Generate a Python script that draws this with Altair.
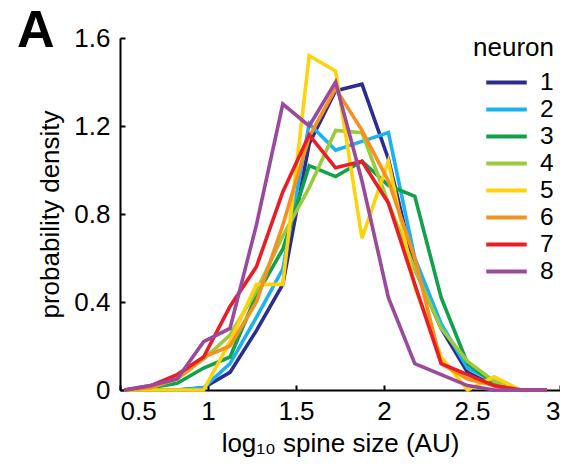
import altair as alt
import pandas as pd

# bin centres (log10 spine size)
x_centers = [0.525, 0.675, 0.825, 0.975, 1.125, 1.275, 1.425, 1.575, 1.725,
             1.875, 2.025, 2.175, 2.325, 2.475, 2.625, 2.775, 2.925]

neurons = ["1", "2", "3", "4", "5", "6", "7", "8"]

n1 = [0, 0, 0, 0.01, 0.08, 0.27, 0.48, 1.12, 1.36, 1.39, 1.05, 0.55, 0.28, 0.08, 0.02, 0, 0]
n2 = [0, 0, 0, 0.01, 0.12, 0.33, 0.55, 1.21, 1.09, 1.13, 1.17, 0.60, 0.30, 0.10, 0.04, 0, 0]
n3 = [0, 0.01, 0.03, 0.10, 0.15, 0.43, 0.64, 1.02, 0.97, 1.04, 0.93, 0.88, 0.42, 0.12, 0.03, 0, 0]
n4 = [0, 0.01, 0.05, 0.14, 0.25, 0.45, 0.70, 0.92, 1.18, 1.17, 0.85, 0.55, 0.28, 0.13, 0.04, 0, 0]
n5 = [0, 0, 0, 0, 0.22, 0.48, 0.48, 1.52, 1.45, 0.69, 1.04, 0.47, 0.15, 0, 0.06, 0, 0]
n6 = [0, 0.01, 0.05, 0.15, 0.20, 0.40, 0.75, 1.15, 1.37, 1.18, 0.95, 0.60, 0.12, 0.05, 0.02, 0, 0]
n7 = [0, 0.02, 0.07, 0.15, 0.38, 0.56, 0.90, 1.16, 1.01, 1.04, 0.85, 0.48, 0.12, 0.07, 0.02, 0, 0]
n8 = [0, 0.02, 0.05, 0.22, 0.28, 0.75, 1.30, 1.20, 1.40, 0.95, 0.42, 0.12, 0.07, 0.02, 0, 0, 0]

series = [n1, n2, n3, n4, n5, n6, n7, n8]

colors = ["#2b2e8f", "#1ab2f0", "#12a14b", "#9acb3c", "#ffd20a",
          "#f7901e", "#ec1c24", "#9a4a9c"]

x_ticks = [0.5, 1, 1.5, 2, 2.5, 3]
y_ticks = [0, 0.4, 0.8, 1.2, 1.6]

panel_label = ["A"]

rows = []
for name, vals in zip(neurons, series):
    for xv, yv in zip(x_centers, vals):
        rows.append({"x": xv, "y": yv, "neuron": name})
df = pd.DataFrame(rows)

FONT = "Liberation Sans"
W, H = 440, 352

xscale = alt.Scale(domain=[0.5, 3], nice=False, zero=False)
yscale = alt.Scale(domain=[0, 1.6], nice=False, zero=False)

base = alt.Chart(df)

lines = base.mark_line(strokeWidth=3.6).encode(
    x=alt.X("x:Q", scale=xscale,
            axis=alt.Axis(values=x_ticks, format="~g", orient="bottom",
                          title="log₁₀ spine size (AU)", tickSize=0,
                          labelFlush=True, labelPadding=8, titlePadding=6)),
    y=alt.Y("y:Q", scale=yscale,
            axis=alt.Axis(values=y_ticks, format="~g", orient="left",
                          title="probability density", tickSize=0,
                          labelPadding=10, titlePadding=10)),
    color=alt.Color("neuron:N",
                    scale=alt.Scale(domain=neurons, range=colors),
                    legend=alt.Legend(title="neuron", orient="none",
                                      legendX=353, legendY=-3,
                                      symbolType="M-1.5,0H1.5",
                                      symbolSize=729,
                                      symbolStrokeWidth=4,
                                      symbolOffset=18,
                                      labelOffset=18,
                                      rowPadding=0,
                                      padding=0,
                                      titlePadding=6,
                                      titleFontWeight="normal",
                                      titleFontSize=26,
                                      labelFontSize=24.5,
                                      titleFont=FONT, labelFont=FONT,
                                      titleColor="black", labelColor="black")),
    detail="neuron:N",
)

ticks = base.mark_line(opacity=0).encode(
    x=alt.X("x:Q", scale=xscale,
            axis=alt.Axis(values=x_ticks, orient="top", offset=-H, labels=False,
                          domain=False, title=None, tickSize=5)),
    y=alt.Y("y:Q", scale=yscale,
            axis=alt.Axis(values=y_ticks, orient="right", offset=-W, labels=False,
                          domain=False, title=None, tickSize=5)),
    detail="neuron:N",
)

label = alt.Chart(pd.DataFrame({"label": panel_label})).mark_text(
    font=FONT, fontSize=52, fontWeight="bold", align="left",
    baseline="alphabetic", color="black",
).encode(text="label:N", x=alt.value(-103), y=alt.value(9))

chart = alt.layer(lines, ticks, label).resolve_axis(
    x="independent", y="independent"
).properties(
    width=W, height=H,
    autosize=alt.AutoSizeParams(type="none"),
    padding={"left": 112, "top": 30, "right": 0, "bottom": 70},
).configure_view(stroke=None).configure_axis(
    grid=False, domainColor="black", domainWidth=2, tickColor="black", tickWidth=2,
    labelFont=FONT, titleFont=FONT, labelFontSize=26, titleFontSize=26,
    labelColor="black", titleColor="black", titleFontWeight="normal",
)

chart.save("out.html", embed_options={"renderer": "svg", "actions": False})
